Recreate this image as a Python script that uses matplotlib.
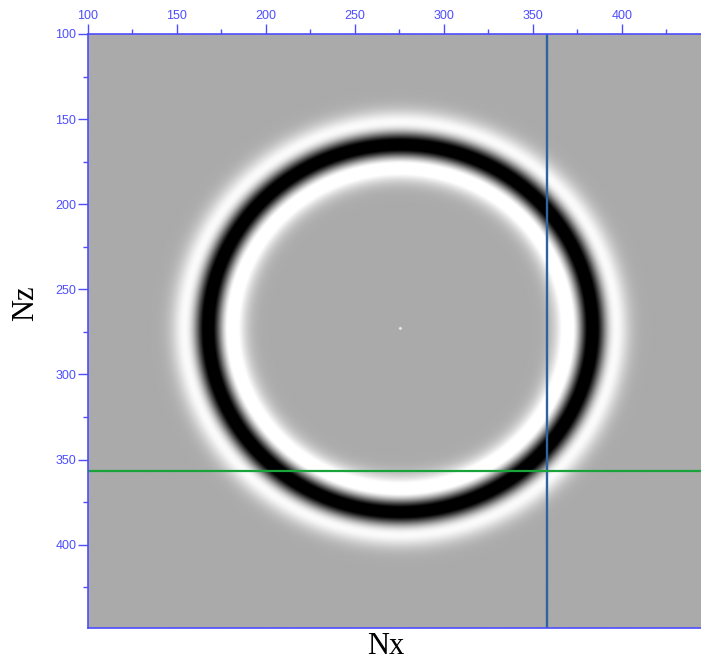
import numpy as np
import matplotlib
matplotlib.use("Agg")
import matplotlib.pyplot as plt
from matplotlib.ticker import MultipleLocator

# ---- chart values ----
x_range = [100, 444.4]          # Nx extent
z_range = [100, 449.0]          # Nz extent
source_xz = [275.5, 273.0]      # source / ring centre
ring_radius = 107.5             # radius of the black wavefront
wavelet_width = 11.0            # Ricker width parameter
wavelet_asym = 0.25             # inner side lobe stronger than outer
color_limits = [-0.8, 0.4]      # gray colormap limits
vline_x = 358                   # blue vertical trace line
hline_z = 357                   # green horizontal trace line
x_major_ticks = [100, 150, 200, 250, 300, 350, 400]
z_major_ticks = [100, 150, 200, 250, 300, 350, 400]

# ---- wavefield snapshot ----
step = 0.25
xs = np.arange(x_range[0], x_range[1] + step, step)
zs = np.arange(z_range[0], z_range[1] + step, step)
X, Z = np.meshgrid(xs, zs)
r = np.hypot(X - source_xz[0], Z - source_xz[1])
d = (r - ring_radius) / wavelet_width
field = -(1 - 2 * d**2) * np.exp(-d**2) + wavelet_asym * (-d) * np.exp(-d**2)
dot = np.hypot(X - source_xz[0], Z - source_xz[1]) < 0.8
field[dot] = 0.3

fig = plt.figure(figsize=(7.01, 6.63), dpi=100)
ax = fig.add_axes([88 / 701, 1 - 628 / 663, 1 - 88 / 701, (628 - 34) / 663])

ax.imshow(field, cmap="gray", vmin=color_limits[0], vmax=color_limits[1],
          extent=[xs[0], xs[-1], zs[-1], zs[0]], aspect="auto",
          interpolation="bilinear")
ax.set_xlim(x_range)
ax.set_ylim(z_range[1], z_range[0])

ax.axvline(vline_x, color="#2f62a0", lw=1.7)
ax.axhline(hline_z, color="#1aa33a", lw=1.6)

blue = "#4d4dff"
ax.xaxis.tick_top()
ax.set_xticks(x_major_ticks)
ax.set_yticks(z_major_ticks)
ax.xaxis.set_minor_locator(MultipleLocator(25))
ax.yaxis.set_minor_locator(MultipleLocator(25))
ax.tick_params(which="both", direction="out", color=blue, labelcolor=blue,
               width=1.0, labelsize=9, pad=1.5)
ax.tick_params(which="major", length=7)
ax.tick_params(which="minor", length=3.5)
for lab in ax.get_xticklabels() + ax.get_yticklabels():
    lab.set_fontfamily("Liberation Sans")
for side in ["top", "left", "bottom"]:
    ax.spines[side].set_color(blue)
    ax.spines[side].set_linewidth(1.2)
ax.spines["right"].set_visible(False)

fig.text(386 / 701, 1 - 647 / 663, "Nx", family="Liberation Serif",
         fontsize=22, ha="center", va="center")
fig.text(26 / 701, 1 - 303 / 663, "Nz", family="Liberation Serif",
         fontsize=22, ha="center", va="center", rotation=90)

fig.savefig("out.png", dpi=100)
